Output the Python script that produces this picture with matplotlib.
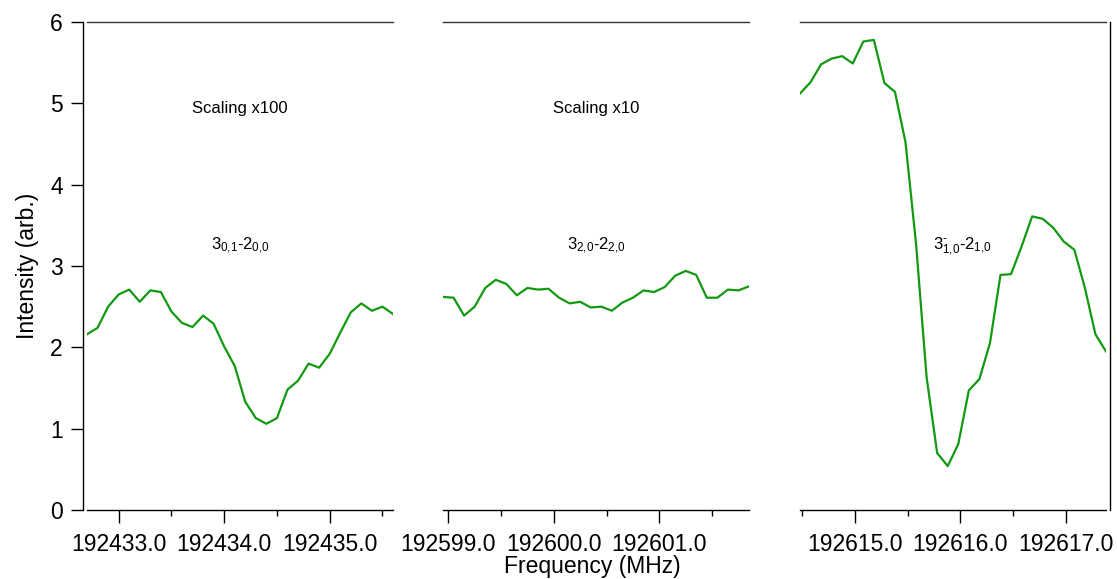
import numpy as np
import matplotlib
matplotlib.use("Agg")
import matplotlib.pyplot as plt

plt.rcParams['font.family'] = ['Liberation Sans', 'DejaVu Sans']
plt.rcParams['mathtext.fontset'] = 'custom'
plt.rcParams['mathtext.rm'] = 'Liberation Sans'
plt.rcParams['mathtext.it'] = 'Liberation Sans'

# frequency grids (MHz): start of each scan, 0.1 MHz steps
step = 0.1
start1 = 192432.70
start2 = 192598.95
start3 = 192614.48

# intensities (arb.) for the three transitions
inten1 = [2.16, 2.24, 2.50, 2.65, 2.71, 2.56, 2.70, 2.68, 2.44, 2.30,
          2.25, 2.39, 2.29, 2.01, 1.77, 1.33, 1.13, 1.06, 1.13, 1.48,
          1.59, 1.80, 1.75, 1.92, 2.18, 2.43, 2.54, 2.45, 2.50, 2.41]
inten2 = [2.62, 2.61, 2.39, 2.50, 2.73, 2.83, 2.78, 2.64, 2.73, 2.71,
          2.72, 2.61, 2.54, 2.56, 2.49, 2.50, 2.45, 2.55, 2.61, 2.70,
          2.68, 2.74, 2.88, 2.94, 2.89, 2.61, 2.61, 2.71, 2.70, 2.75]
inten3 = [5.12, 5.26, 5.48, 5.55, 5.58, 5.49, 5.76, 5.78, 5.25, 5.14,
          4.52, 3.27, 1.63, 0.70, 0.54, 0.81, 1.47, 1.61, 2.05, 2.89,
          2.90, 3.24, 3.61, 3.58, 3.47, 3.30, 3.20, 2.73, 2.16, 1.95]

scalings = ["Scaling x100", "Scaling x10", ""]
labels = [r"3$_{0{,}1}$-2$_{0{,}0}$", r"3$_{2{,}0}$-2$_{2{,}0}$",
          r"3$^{\text{-}}_{1{,}0}$-2$_{1{,}0}$"]
label_x = [0.5, 0.5, 0.53]
major_ticks = [[192433.0, 192434.0, 192435.0],
               [192599.0, 192600.0, 192601.0],
               [192615.0, 192616.0, 192617.0]]

green = '#119911'
W, H = 1117, 579
fig = plt.figure(figsize=(W / 100, H / 100), dpi=100)

lefts = [87, 443, 800]
bottom = 1 - 510 / H
height = 488 / H
width = 306 / W

data = [(start1, inten1), (start2, inten2), (start3, inten3)]
for i, (s, y) in enumerate(data):
    ax = fig.add_axes([lefts[i] / W, bottom, width, height])
    y = np.array(y)
    x = s + step * np.arange(len(y))
    ax.plot(x, y, color=green, lw=1.6)

    ax.set_xticks(major_ticks[i])
    ax.set_xticks(np.arange(major_ticks[i][0] - 0.5, major_ticks[i][-1] + 1.0, 1.0), minor=True)
    ax.set_xticklabels(["%.1f" % t for t in major_ticks[i]])
    # set limits after ticks so the outside minor ticks don't widen the view
    ax.set_xlim(x[0], x[-1])
    ax.set_ylim(0, 6)
    ax.tick_params(axis='x', which='major', length=9.5, width=1.0, pad=7, labelsize=16.5)
    ax.tick_params(axis='x', which='minor', length=4.5, width=1.0)

    ax.spines['top'].set_color('#333333')
    ax.spines['top'].set_linewidth(1.0)
    ax.spines['bottom'].set_linewidth(1.0)
    ax.spines['right'].set_visible(False)

    if i == 0:
        ax.spines['left'].set_position(('outward', 3))
        ax.spines['left'].set_linewidth(1.0)
        ax.set_yticks(range(0, 7))
        ax.set_ylim(0, 6)
        ax.tick_params(axis='y', length=8.5, width=1.0, pad=6, labelsize=16.5)
    else:
        ax.spines['left'].set_visible(False)
        ax.set_yticks([])
    if i == 2:
        ax.spines['right'].set_visible(True)
        ax.spines['right'].set_position(('outward', 3))
        ax.spines['right'].set_linewidth(1.0)

    if scalings[i]:
        ax.text(0.5, 4.94, scalings[i], transform=ax.get_yaxis_transform(),
                ha='center', va='center', fontsize=12)
    ax.text(label_x[i], 3.2, labels[i], transform=ax.get_yaxis_transform(),
            ha='center', va='baseline', fontsize=12)

fig.text(592 / W, 1 - 567 / H, "Frequency (MHz)", ha='center', va='center', fontsize=16.5)
fig.text(28 / W, 1 - 266 / H, "Intensity (arb.)", ha='center', va='center',
         rotation=90, fontsize=16.5)

fig.savefig("out.png", dpi=100)
